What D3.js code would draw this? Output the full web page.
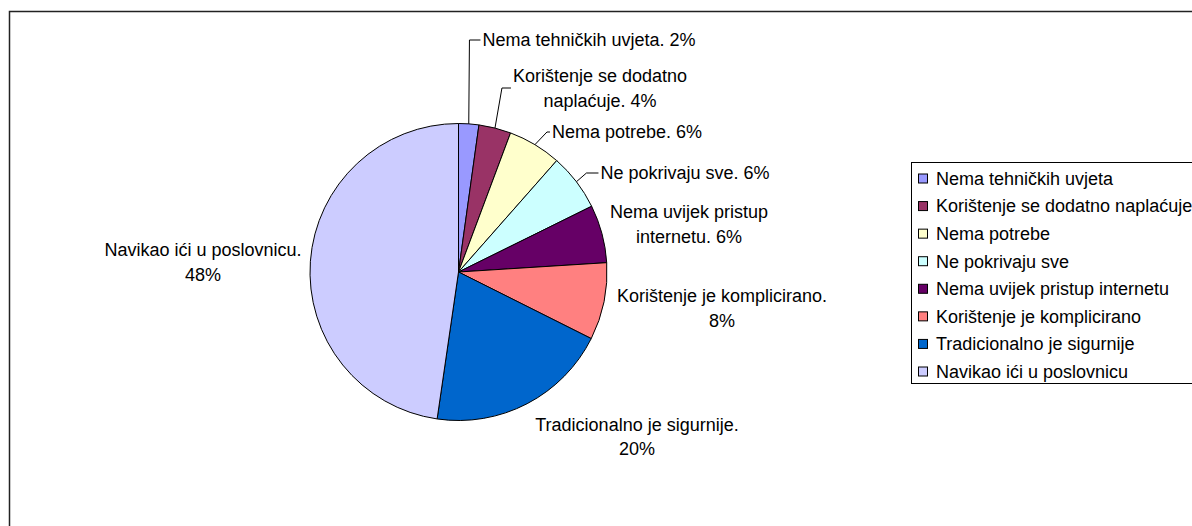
<!DOCTYPE html>
<html>
<head>
<meta charset="utf-8">
<script src="https://cdn.jsdelivr.net/npm/d3@7"></script>
<style>
  body { margin: 0; background: #fff; }
  text { font-family: "Liberation Sans", Arial, sans-serif; font-size: 18px; fill: #000; }
</style>
</head>
<body>
<div id="visContainer"></div>
<script>
'use strict';

// answers (share of respondents, %)
var categories = ["Nema tehničkih uvjeta", "Korištenje se dodatno naplaćuje", "Nema potrebe",
                  "Ne pokrivaju sve", "Nema uvijek pristup internetu", "Korištenje je komplicirano",
                  "Tradicionalno je sigurnije", "Navikao ići u poslovnicu"];
var values = [2.2, 3.5, 5.8, 6.2, 6.3, 8.4, 19.9, 47.7];
var colors = ["#9999FF", "#993366", "#FFFFCC", "#CCFFFF", "#660066", "#FF8080", "#0066CC", "#CCCCFF"];

// label layout: words on first line (0 = one line), block centre, leader elbow
var firstLineWords = [0, 3, 0, 0, 3, 3, 3, 4];
var labelPos = [[589, 40], [600, 88], [627, 132], [685, 173], [689, 224], [722, 308], [637, 436.5], [203, 262]];
var leaderElbow = [11, 9, 3, 12, 0, 0, 0, 0];

var width = 1192, height = 526;
var cx = 458.5, cy = 272, radius = 148.5;
var lineH = 24.5;

var svg = d3.select("#visContainer").append("svg")
    .attr("width", width)
    .attr("height", height);

// outer chart frame (runs off the right and bottom)
svg.append("path")
    .attr("d", "M9.5," + (height + 5) + "V11.5H" + (width + 5))
    .attr("fill", "none")
    .attr("stroke", "#222")
    .attr("stroke-width", 1.5);

var total = d3.sum(values);
var pct = function(v) { return Math.round(v / total * 100) + "%"; };

var pie = d3.pie().sort(null).value(function(d) { return d; });
var arcs = pie(values);
var arc = d3.arc().innerRadius(0).outerRadius(radius);

var g = svg.append("g").attr("transform", "translate(" + cx + "," + cy + ")");
g.selectAll("path")
    .data(arcs)
  .enter().append("path")
    .attr("d", arc)
    .attr("fill", function(d, i) { return colors[i]; })
    .attr("stroke", "#000")
    .attr("stroke-width", 1);

// data labels
var labels = svg.append("g");
for (var i = 0; i < categories.length; i++) {
    var full = categories[i] + ". " + pct(values[i]);
    var words = full.split(" ");
    var lines = firstLineWords[i] ? [words.slice(0, firstLineWords[i]).join(" "), words.slice(firstLineWords[i]).join(" ")] : [full];
    var t = labels.append("text")
        .attr("text-anchor", "middle");
    for (var j = 0; j < lines.length; j++) {
        t.append("tspan")
            .attr("x", labelPos[i][0])
            .attr("y", labelPos[i][1] + (j - (lines.length - 1) / 2) * lineH)
            .attr("dy", "0.35em")
            .text(lines[j]);
    }
    if (leaderElbow[i]) {
        var box = t.node().getBBox();
        var mid = (arcs[i].startAngle + arcs[i].endAngle) / 2;
        var sx = cx + radius * Math.sin(mid), sy = cy - radius * Math.cos(mid);
        var ex = box.x - 2, ey = labelPos[i][1];
        svg.append("polyline")
            .attr("points", [[sx, sy], [ex - leaderElbow[i], ey], [ex, ey]].join(" "))
            .attr("fill", "none")
            .attr("stroke", "#000")
            .attr("stroke-width", 1);
    }
}

// legend
var legendY = d3.scalePoint().domain(d3.range(categories.length)).range([178.5, 371.5]);
svg.append("rect")
    .attr("x", 911.5).attr("y", 162.5)
    .attr("width", 300).attr("height", 221)
    .attr("fill", "#fff")
    .attr("stroke", "#000")
    .attr("stroke-width", 1);
var item = svg.selectAll(".legend")
    .data(categories)
  .enter().append("g")
    .attr("class", "legend")
    .attr("transform", function(d, i) { return "translate(918," + legendY(i) + ")"; });
item.append("rect")
    .attr("x", 0.5).attr("y", -4.5)
    .attr("width", 9).attr("height", 9)
    .attr("fill", function(d, i) { return colors[i]; })
    .attr("stroke", "#000")
    .attr("stroke-width", 1);
item.append("text")
    .attr("x", 18)
    .attr("dy", "0.35em")
    .text(function(d) { return d; });
</script>
</body>
</html>
